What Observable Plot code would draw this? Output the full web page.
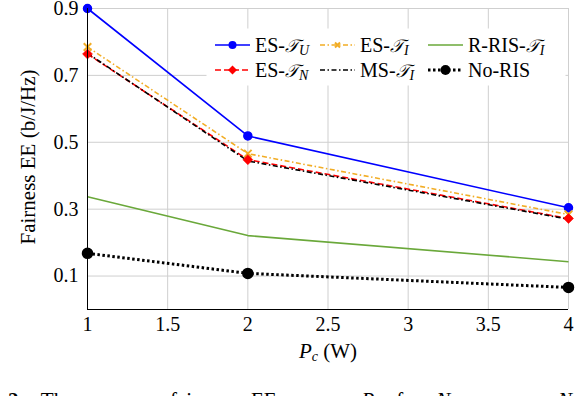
<!DOCTYPE html>
<html>
<head>
<meta charset="utf-8">
<script src="https://cdn.jsdelivr.net/npm/d3@7"></script>
<script src="https://cdn.jsdelivr.net/npm/@observablehq/plot@0.6"></script>
<style>
  body { margin: 0; background: #fff; width: 576px; height: 396px; overflow: hidden; }
  #chart svg { display: block; }
  #chart svg text { font-family: "Liberation Serif", "Times New Roman", serif; }
  #chart svg text .cal { font-family: "DejaVu Serif", serif; }
  #caption { font-family: "Liberation Serif", "Times New Roman", serif; font-size: 21px; white-space: nowrap;
    margin-left: -42px; width: 614px; text-align: justify; text-align-last: justify; padding-top: 10px; color: #000; line-height: 24px; }
</style>
</head>
<body>
<div id="chart"></div>
<div id="caption"><b>Fig. 2:</b> The average fairness EE versus <i>P<sub style="font-size:14px">c</sub></i> for <i>N</i><sub style="font-size:14px">s</sub> = <i>n</i><sub style="font-size:14px">s</sub> = <i>N</i></div>
<script>
const pc = [1, 2, 4];
const esTU = [0.900, 0.519, 0.304];
const esTI = [0.785, 0.466, 0.284];
const esTN = [0.764, 0.448, 0.272];
const msTI = [0.766, 0.444, 0.270];
const rrisTI = [0.337, 0.221, 0.143];
const noRIS = [0.168, 0.108, 0.066];
const xTicks = [1, 1.5, 2, 2.5, 3, 3.5, 4];
const yTicks = [0.1, 0.3, 0.5, 0.7, 0.9];

const seriesDefs = [
  {key: "ES-TU", vals: esTU, color: "#0000ff", dash: null, width: 1.6, marker: "circle", sub: "U"},
  {key: "ES-TI", vals: esTI, color: "#f2ad25", dash: "5,2.5,1.5,2.5", width: 1.6, marker: "times", sub: "I"},
  {key: "R-RIS-TI", vals: rrisTI, color: "#6aa83a", dash: null, width: 1.6, marker: null, sub: "I"},
  {key: "ES-TN", vals: esTN, color: "#ff0000", dash: "6,3", width: 1.6, marker: "diamond", sub: "N"},
  {key: "MS-TI", vals: msTI, color: "#000000", dash: "5,2.5,1.5,2.5", width: 1.6, marker: null, sub: "I"},
  {key: "No-RIS", vals: noRIS, color: "#000000", dash: "2.5,2.5", width: 3, marker: "dot", sub: null}
];
const data = seriesDefs.flatMap(s => pc.map((p, i) => ({series: s.key, x: p, y: s.vals[i]})));
const font = "Liberation Serif";

const marks = [
  Plot.gridX(xTicks, {stroke: "#cfcfcf", strokeOpacity: 1, strokeWidth: 1}),
  Plot.gridY(yTicks, {stroke: "#cfcfcf", strokeOpacity: 1, strokeWidth: 1}),
  Plot.axisX(xTicks, {tickSize: 0, tickPadding: 7, fontSize: 20, tickFormat: d => String(d), label: null}),
  Plot.axisY(yTicks, {tickSize: 0, tickPadding: 9, fontSize: 20, tickFormat: d3.format(".1f"), label: null})
];
const order = ["R-RIS-TI", "No-RIS", "ES-TU", "ES-TI", "ES-TN", "MS-TI"];
for (const k of order) {
  const s = seriesDefs.find(d => d.key === k);
  const rows = data.filter(d => d.series === k);
  marks.push(Plot.line(rows, {x: "x", y: "y", stroke: s.color, strokeWidth: s.width, strokeDasharray: s.dash || undefined, strokeLinecap: "butt"}));
}
for (const s of seriesDefs) {
  const rows = data.filter(d => d.series === s.key);
  if (s.marker === "circle") marks.push(Plot.dot(rows, {x: "x", y: "y", r: 4, fill: s.color, stroke: s.color}));
  if (s.marker === "dot") marks.push(Plot.dot(rows, {x: "x", y: "y", r: 5, fill: s.color, stroke: s.color}));
  if (s.marker === "diamond") marks.push(Plot.dot(rows, {x: "x", y: "y", r: 4.5, symbol: "diamond2", fill: s.color, stroke: s.color, strokeWidth: 0.5}));
  if (s.marker === "times") marks.push(Plot.dot(rows, {x: "x", y: "y", r: 3.5, symbol: "times", stroke: s.color, strokeWidth: 2}));
}
marks.push(Plot.ruleX([1], {stroke: "#000", strokeWidth: 1}));
marks.push(Plot.ruleY([0], {stroke: "#000", strokeWidth: 1}));

const chart = Plot.plot({
  width: 576, height: 378,
  marginLeft: 87, marginRight: 8, marginTop: 8, marginBottom: 69,
  x: {domain: [1, 4], axis: null},
  y: {domain: [0, 0.9], axis: null},
  style: {fontFamily: font, color: "#000", background: "#fff", overflow: "visible"},
  marks
});
document.getElementById("chart").appendChild(chart);

const svg = d3.select(chart);
svg.append("text")
  .attr("transform", "translate(35,157) rotate(-90)")
  .attr("text-anchor", "middle")
  .attr("font-size", 21)
  .text("Fairness EE (b/J/Hz)");
const xl = svg.append("text")
  .attr("x", 328).attr("y", 358)
  .attr("text-anchor", "middle")
  .attr("font-size", 21);
xl.append("tspan").attr("font-style", "italic").text("P");
xl.append("tspan").attr("font-style", "italic").attr("font-size", 14).attr("dy", 3).text("c");
xl.append("tspan").attr("dy", -3).text(" (W)");

const lg = svg.append("g");
lg.append("rect").attr("x", 207).attr("y", 29).attr("width", 358).attr("height", 56)
  .attr("fill", "#fff").attr("stroke", "#fff");
const cols = [215, 320, 428];
const rowsY = [45, 70];
seriesDefs.forEach((s, i) => {
  const cx = cols[i % 3], cy = rowsY[Math.floor(i / 3)];
  const lx1 = cx, lx2 = cx + 35;
  lg.append("line").attr("x1", lx1).attr("x2", lx2).attr("y1", cy).attr("y2", cy)
    .attr("stroke", s.color).attr("stroke-width", s.width)
    .attr("stroke-dasharray", s.dash || null);
  const mx = (lx1 + lx2) / 2;
  if (s.marker === "circle") lg.append("circle").attr("cx", mx).attr("cy", cy).attr("r", 4).attr("fill", s.color);
  if (s.marker === "dot") lg.append("circle").attr("cx", mx).attr("cy", cy).attr("r", 5).attr("fill", s.color);
  if (s.marker === "diamond") lg.append("path").attr("d", `M${mx},${cy-4.5}L${mx+4.5},${cy}L${mx},${cy+4.5}L${mx-4.5},${cy}Z`).attr("fill", s.color);
  if (s.marker === "times") lg.append("path").attr("d", `M${mx-2.5},${cy-2.5}L${mx+2.5},${cy+2.5}M${mx-2.5},${cy+2.5}L${mx+2.5},${cy-2.5}`).attr("stroke", s.color).attr("stroke-width", 2);
  const t = lg.append("text").attr("x", lx2 + 5).attr("y", cy + 7)
    .attr("text-anchor", "start")
    .attr("font-size", 20);
  const prefix = s.key.replace(/T[UIN]$/, "");
  t.append("tspan").text(prefix);
  if (s.sub) {
    t.append("tspan").attr("class", "cal").attr("font-style", "italic").attr("font-size", 18).text("\u{1D4AF}");
    t.append("tspan").attr("font-style", "italic").attr("font-size", 14).attr("dy", 3).text(s.sub);
  }
});
</script>
</body>
</html>
